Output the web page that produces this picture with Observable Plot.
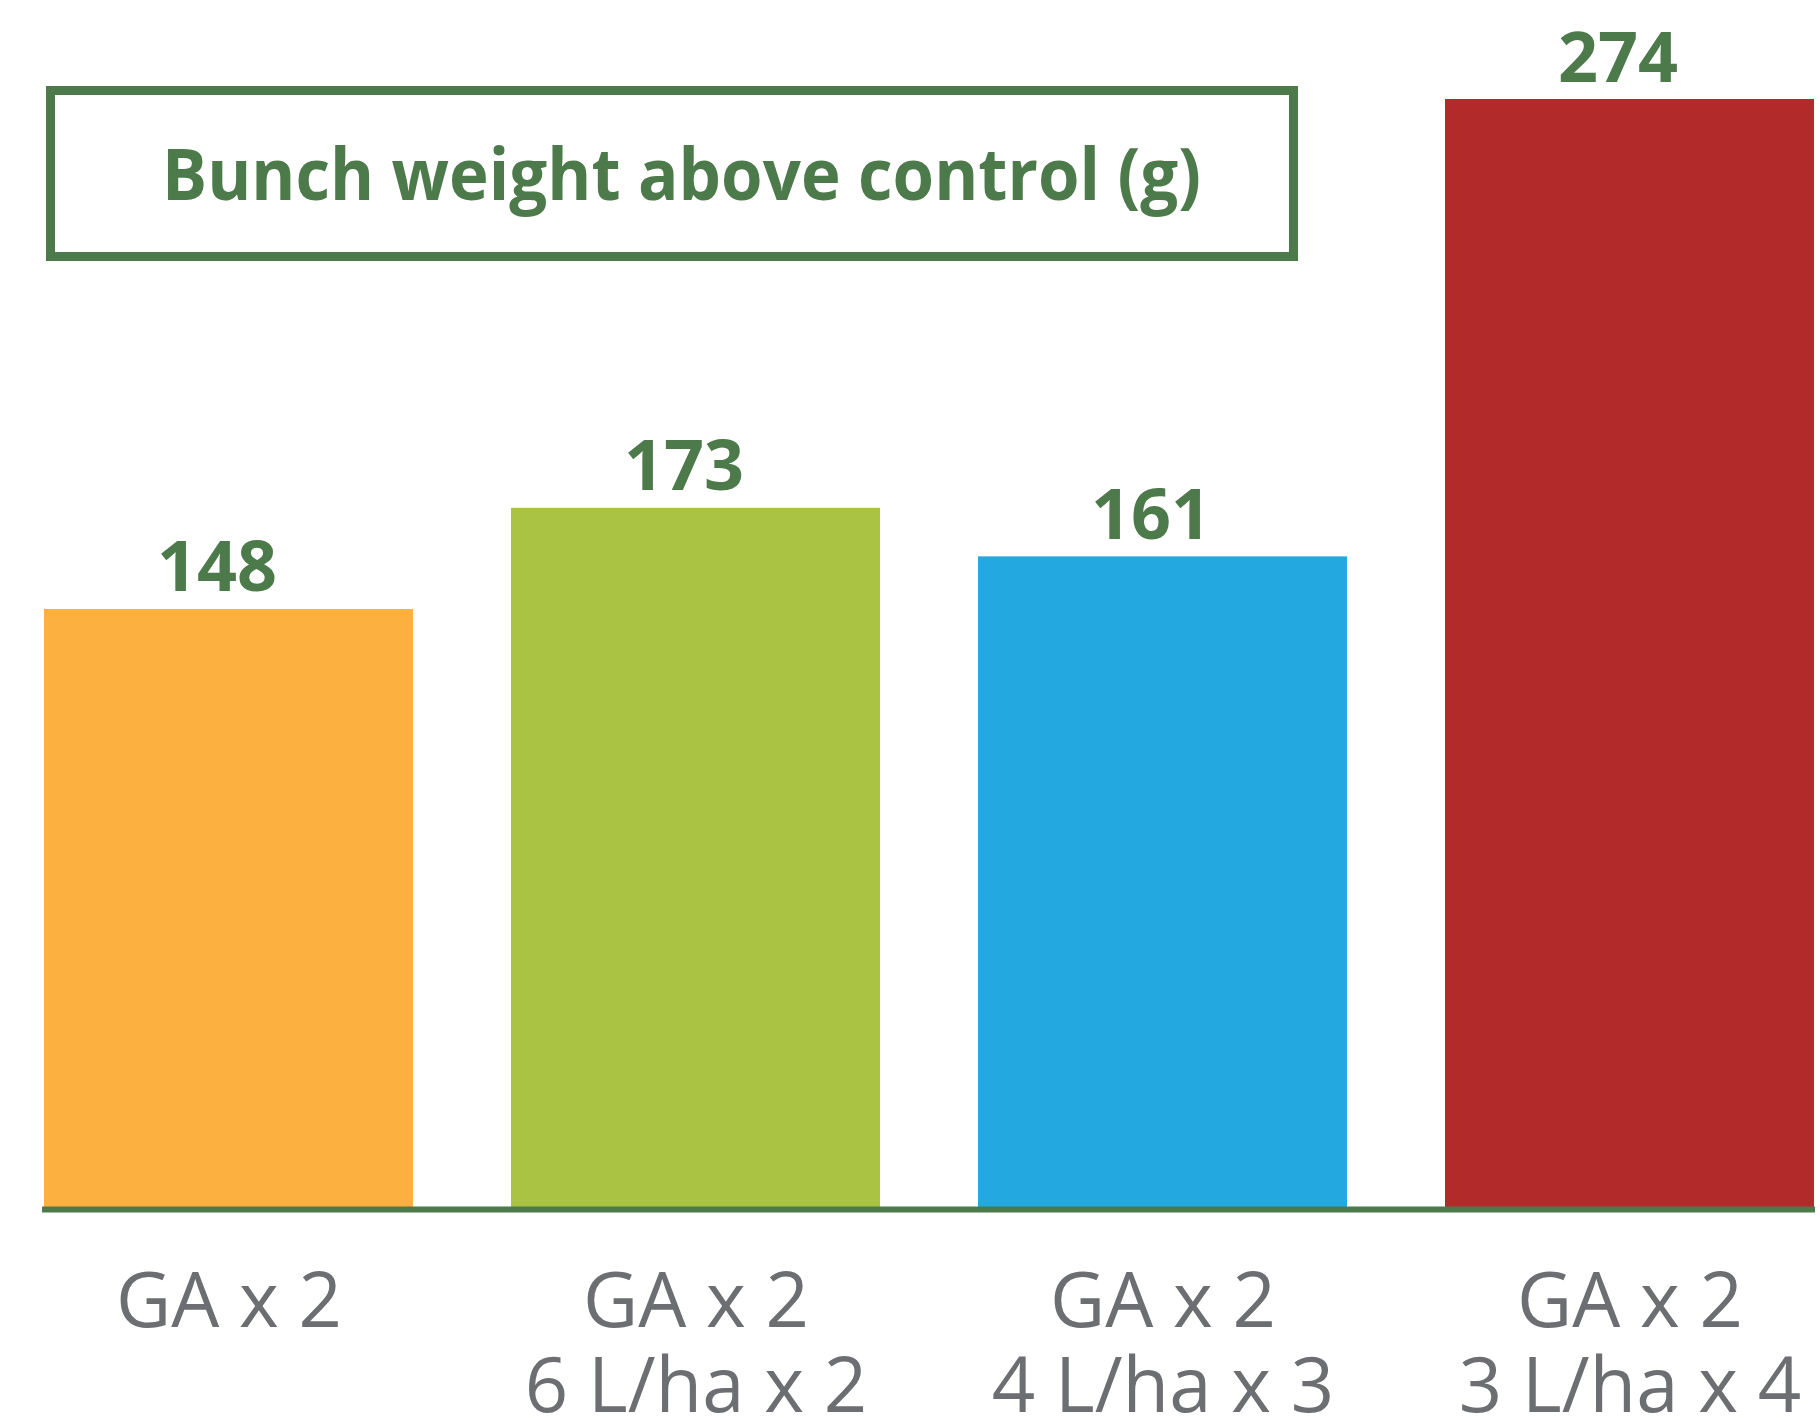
<!DOCTYPE html>
<html>
<head>
<meta charset="utf-8">
<script src="https://cdn.jsdelivr.net/npm/d3@7"></script>
<script src="https://cdn.jsdelivr.net/npm/@observablehq/plot@0.6"></script>
<style>
  html, body { margin: 0; padding: 0; background: #fff; }
  #wrap { position: relative; width: 1820px; height: 1421px; overflow: hidden; }
  #title { position: absolute; left: 0; top: 0; }
</style>
</head>
<body>
<div id="wrap"></div>
<script>
const categories = ["GA x 2", "GA x 2\n6 L/ha x 2", "GA x 2\n4 L/ha x 3", "GA x 2\n3 L/ha x 4"];
const values = [148, 173, 161, 274];
const colors = ["#fbb040", "#abc343", "#24a8e0", "#b22a29"];
const titleText = "Bunch weight above control (g)";

const green = "#4d7a4a";
const gray = "#6d6e71";

const data = categories.map((c, i) => ({category: c, value: values[i], color: colors[i]}));

const chart = Plot.plot({
  width: 1820,
  height: 1421,
  marginLeft: 42,
  marginRight: 5,
  marginTop: 99,
  marginBottom: 213,
  style: {background: "#fff", fontFamily: "'Open Sans', sans-serif"},
  x: {domain: categories, paddingInner: 0.21, paddingOuter: 0, label: null},
  y: {domain: [0, 274], axis: null},
  marks: [
    Plot.barY(data, {x: "category", y: "value", fill: "color"}),
    Plot.ruleY([0], {stroke: green, strokeWidth: 6, dy: 1}),
    Plot.text(data, {x: "category", y: "value", text: d => String(d.value), dy: -18, dx: -12, lineAnchor: "bottom",
      fill: green, fontSize: 70, fontWeight: "bold"}),
    Plot.axisX({tickSize: 0, tickPadding: 58, fontSize: 76, lineHeight: 1.12, fill: gray, label: null, lineAnchor: "top"})
  ]
});

const wrap = document.getElementById("wrap");
wrap.appendChild(chart);

// Title box annotation
const svgNS = "http://www.w3.org/2000/svg";
const t = document.createElementNS(svgNS, "svg");
t.setAttribute("id", "title");
t.setAttribute("width", 1820);
t.setAttribute("height", 300);
const rect = document.createElementNS(svgNS, "rect");
rect.setAttribute("x", 50.5);
rect.setAttribute("y", 90.5);
rect.setAttribute("width", 1243);
rect.setAttribute("height", 166);
rect.setAttribute("fill", "none");
rect.setAttribute("stroke", green);
rect.setAttribute("stroke-width", 9);
t.appendChild(rect);
const txt = document.createElementNS(svgNS, "text");
txt.setAttribute("x", 162);
txt.setAttribute("y", 200);
txt.setAttribute("fill", green);
txt.setAttribute("font-family", "'Open Sans', sans-serif");
txt.setAttribute("font-weight", "bold");
txt.setAttribute("font-size", 72);
txt.setAttribute("textLength", 1039);
txt.setAttribute("lengthAdjust", "spacingAndGlyphs");
txt.textContent = titleText;
t.appendChild(txt);
wrap.appendChild(t);
</script>
</body>
</html>
